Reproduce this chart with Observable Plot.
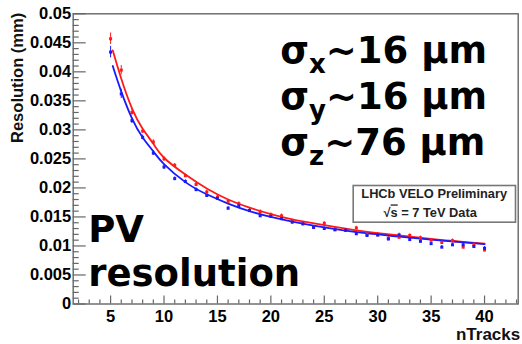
<!DOCTYPE html>
<html>
<head>
<meta charset="utf-8">
<script src="https://cdn.jsdelivr.net/npm/d3@7"></script>
<script src="https://cdn.jsdelivr.net/npm/@observablehq/plot@0.6"></script>
<style>
  html, body { margin: 0; padding: 0; background: white; }
</style>
</head>
<body>
<div id="chart"></div>
<script>
// ---- data ----
const nTracks = [5,6,7,8,9,10,11,12,13,14,15,16,17,18,19,20,21,22,23,24,25,26,27,28,29,30,31,32,33,34,35,36,37,38,39,40];
const redRes = [0.0457,0.0403,0.0330,0.0298,0.0279,0.0250,0.0239,0.0221,0.0206,0.0193,0.0184,0.0177,0.0173,0.0161,0.0159,0.0154,0.0152,0.0143,0.0139,0.0132,0.0139,0.0128,0.0127,0.0131,0.0120,0.0119,0.0113,0.0115,0.0118,0.0114,0.0110,0.0106,0.0109,0.0098,0.0102,0.0093];
const blueRes = [0.0434,0.0362,0.0316,0.0287,0.0260,0.0236,0.0216,0.0211,0.0197,0.0187,0.0182,0.0165,0.0169,0.0161,0.0152,0.0151,0.0147,0.0141,0.0138,0.0132,0.0130,0.0128,0.0127,0.0121,0.0118,0.0119,0.0112,0.0119,0.0111,0.0108,0.0104,0.0098,0.0102,0.0102,0.0099,0.0096];
const resErr = [0.0010,0.0008,0.0005,0.0004,0.0004,0.0004,0.0003,0.0003,0.0003,0.0003,0.0003,0.0003,0.0003,0.0003,0.0003,0.0003,0.0003,0.0003,0.0003,0.0003,0.0003,0.0003,0.0003,0.0003,0.0003,0.0003,0.0003,0.0003,0.0003,0.0003,0.0003,0.0003,0.0003,0.0003,0.0003,0.0003];

const fitX = [5.2,6,7,8,9,10,12,14,16,18,20,22,25,28,30,32,35,38,40];
const redFit = [0.0437,0.0388,0.0337,0.0302,0.0276,0.0252,0.0223,0.0199,0.0180,0.0166,0.0155,0.0146,0.0136,0.0127,0.0122,0.0118,0.0112,0.0107,0.0104];
const blueFit = [0.0410,0.0366,0.0320,0.0287,0.0263,0.0241,0.0210,0.0189,0.0173,0.0160,0.0150,0.0142,0.0132,0.0124,0.0120,0.0116,0.0111,0.0106,0.0103];

const xTicks = [5,10,15,20,25,30,35,40];
const xMinor = [2,3,4,6,7,8,9,11,12,13,14,16,17,18,19,21,22,23,24,26,27,28,29,31,32,33,34,36,37,38,39,41,42,43];
const yTicks = [0,0.005,0.01,0.015,0.02,0.025,0.03,0.035,0.04,0.045,0.05];
const yMinor = [0.001,0.002,0.003,0.004,0.006,0.007,0.008,0.009,0.011,0.012,0.013,0.014,0.016,0.017,0.018,0.019,0.021,0.022,0.023,0.024,0.026,0.027,0.028,0.029,0.031,0.032,0.033,0.034,0.036,0.037,0.038,0.039,0.041,0.042,0.043,0.044,0.046,0.047,0.048,0.049];

const sigmaAxes = ["x","y","z"];
const sigmaValues = ["16","16","76"];
const yLabel = "Resolution (mm)";
const xLabel = "nTracks";
const legendLines = ["LHCb VELO Preliminary", "√s = 7 TeV Data"];
const titleLines = ["PV", "resolution"];

// ---- build tables ----
const redPts = nTracks.map((n, i) => ({n, v: redRes[i], e: resErr[i]}));
const bluePts = nTracks.map((n, i) => ({n, v: blueRes[i], e: resErr[i]}));
const redFitRows = fitX.map((n, i) => ({n, v: redFit[i]}));
const blueFitRows = fitX.map((n, i) => ({n, v: blueFit[i]}));

const W = 522, H = 344;
const mL = 72.7, mR = 4.3, mT = 13.3, mB = 40.5;
const innerW = W - mL - mR, innerH = H - mT - mB;
const RED = "#ff1a1a", BLUE = "#1a1aff", AX = "#666";
const bigFont = "'DejaVu Sans', Verdana, sans-serif";
const axFont = "'Liberation Sans', Arial, Helvetica, sans-serif";

const sigmaMarks = sigmaAxes.map((a, i) =>
  Plot.text([`σ${a}~${sigmaValues[i]} µm`], {
    frameAnchor: "top-left", textAnchor: "start", lineAnchor: "bottom",
    dx: 207, dy: 48.7 + i * 46, fontSize: 37, fontWeight: "bold",
    fontFamily: bigFont, fill: "black"
  })
);

const chart = Plot.plot({
  width: W, height: H,
  marginLeft: mL, marginRight: mR, marginTop: mT, marginBottom: mB,
  x: {domain: [1.5, 43.15]},
  y: {domain: [0, 0.05]},
  style: {fontFamily: axFont, fontWeight: "bold", background: "white", color: "black", overflow: "visible"},
  marks: [
    // minor / major ticks (inside the frame, ROOT style)
    Plot.tickX(xMinor, {x: d => d, insetTop: innerH - 4, stroke: AX, strokeWidth: 1.2}),
    Plot.tickX(xTicks, {x: d => d, insetTop: innerH - 8, stroke: AX, strokeWidth: 1.2}),
    Plot.tickY(yMinor, {y: d => d, insetRight: innerW - 6, stroke: AX, strokeWidth: 1.2}),
    Plot.tickY(yTicks, {y: d => d, insetRight: innerW - 13, stroke: AX, strokeWidth: 1.2}),
    Plot.frame({stroke: AX, strokeWidth: 1.4}),
    Plot.axisX(xTicks, {tickSize: 0, tickPadding: 6, fontSize: 16.5, fontWeight: "bold", fill: "black", label: null, tickFormat: d => String(d)}),
    Plot.axisY(yTicks, {tickSize: 0, tickPadding: 2, fontSize: 16.5, fontWeight: "bold", fill: "black", label: null, tickFormat: d => String(d)}),
    // axis titles
    Plot.text([yLabel], {frameAnchor: "top-left", rotate: -90, textAnchor: "end", lineAnchor: "middle", dx: -55, dy: -1, fontSize: 16.5, fontWeight: "bold", fontFamily: axFont, fill: "#111"}),
    Plot.text([xLabel], {frameAnchor: "bottom-right", textAnchor: "end", lineAnchor: "bottom", dx: 2, dy: 35.5, fontSize: 17, fontWeight: "bold", fontFamily: axFont, fill: "#111"}),
    // legend box
    Plot.frame({insetLeft: 280, insetTop: 171.7, insetRight: 2.7, insetBottom: 81.8, stroke: "#777", strokeWidth: 1.6, fill: "white"}),
    Plot.text([legendLines[0]], {frameAnchor: "top-left", textAnchor: "middle", lineAnchor: "middle", dx: 361, dy: 180, fontSize: 12.8, fontWeight: "bold", fontFamily: axFont, fill: "#222"}),
    Plot.text([legendLines[1]], {frameAnchor: "top-left", textAnchor: "middle", lineAnchor: "middle", dx: 357, dy: 199.5, fontSize: 12.8, fontWeight: "bold", fontFamily: axFont, fill: "#222"}),
    // fits
    Plot.line(redFitRows, {x: "n", y: "v", stroke: RED, strokeWidth: 1.8, curve: "natural"}),
    Plot.line(blueFitRows, {x: "n", y: "v", stroke: BLUE, strokeWidth: 1.8, curve: "natural"}),
    // error bars and points
    Plot.ruleX(redPts, {x: "n", y1: d => d.v - d.e, y2: d => d.v + d.e, stroke: RED, strokeWidth: 1}),
    Plot.ruleX(bluePts, {x: "n", y1: d => d.v - d.e, y2: d => d.v + d.e, stroke: BLUE, strokeWidth: 1}),
    Plot.dot(redPts, {x: "n", y: "v", symbol: "square", r: 1.7, fill: RED}),
    Plot.dot(bluePts, {x: "n", y: "v", symbol: "square", r: 1.7, fill: BLUE}),
    // big annotations
    ...sigmaMarks,
    Plot.text([titleLines[0]], {frameAnchor: "top-left", textAnchor: "start", lineAnchor: "bottom", dx: 15, dy: 228.4, fontSize: 37, fontWeight: "bold", fontFamily: bigFont, fill: "black"}),
    Plot.text([titleLines[1]], {frameAnchor: "top-left", textAnchor: "start", lineAnchor: "bottom", dx: 15, dy: 271.7, fontSize: 37, fontWeight: "bold", fontFamily: bigFont, fill: "black"})
  ]
});

// subscripts for sigma labels and overline for sqrt(s)
d3.select(chart).selectAll("text").each(function() {
  const t = d3.select(this);
  const s = this.textContent;
  if (/^σ[xyz]~/.test(s)) {
    t.text(null);
    t.append("tspan").text("σ");
    t.append("tspan").attr("dy", 10).attr("font-size", 26).text(s[1]);
    t.append("tspan").attr("dy", -10).text(s.slice(2));
  } else if (s.startsWith("√s")) {
    t.text(null);
    t.append("tspan").text("√");
    t.append("tspan").attr("text-decoration", "overline").text("s");
    t.append("tspan").text(s.slice(2));
  }
});

document.getElementById("chart").appendChild(chart);
</script>
</body>
</html>
